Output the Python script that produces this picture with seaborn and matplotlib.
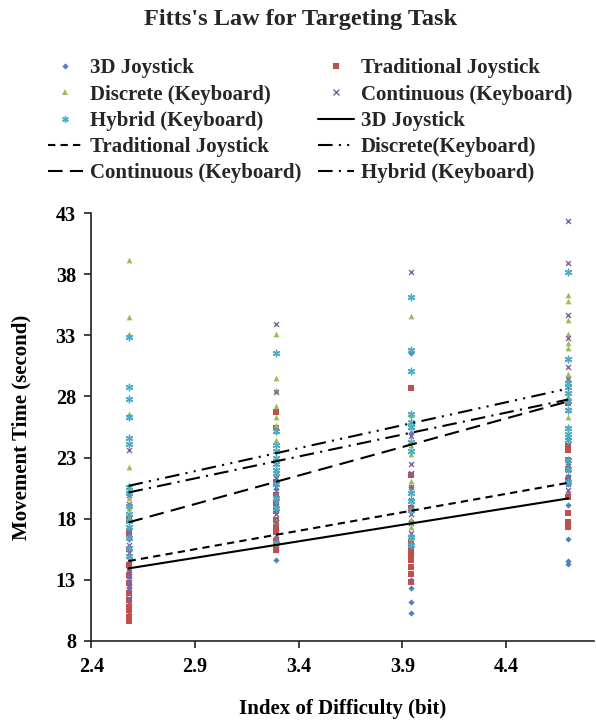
import numpy as np
import pandas as pd
import matplotlib
matplotlib.use("Agg")
import matplotlib.pyplot as plt
import seaborn as sns
from matplotlib.lines import Line2D

# ---------------- data ----------------
id_levels = [2.58, 3.29, 3.94, 4.70]

series_names = ["3D Joystick", "Traditional Joystick", "Discrete (Keyboard)",
                "Continuous (Keyboard)", "Hybrid (Keyboard)"]

mt_3d_joystick = [
    [10.2, 11.0, 12.3, 12.6, 13.2, 13.8, 14.4, 15.0, 15.7, 16.3, 17.2, 18.0],
    [14.6, 15.4, 15.7, 16.0, 16.3, 16.5, 17.1, 17.9, 18.6, 19.5, 20.4],
    [10.3, 11.2, 12.3, 13.0, 14.0, 15.2, 16.5, 17.8, 19.0, 20.6, 25.0, 31.6],
    [14.3, 14.5, 16.3, 17.3, 17.7, 19.1, 20.0, 20.8, 21.5, 22.5, 24.6],
]
mt_traditional = [
    [9.6, 9.9, 10.5, 10.8, 11.3, 11.9, 12.7, 13.4, 14.2, 15.5, 16.8, 18.0],
    [15.4, 15.8, 16.2, 16.9, 17.3, 17.9, 18.6, 19.3, 19.9, 21.0, 25.4, 26.7],
    [12.8, 13.5, 14.0, 14.6, 15.0, 15.5, 16.0, 18.9, 21.6, 28.7],
    [17.3, 17.7, 18.45, 19.8, 21.2, 22.1, 22.8, 23.6, 23.96, 27.5],
]
mt_discrete = [
    [39.2, 34.5, 33.1, 26.6, 22.2, 20.4, 19.7, 18.9, 18.1, 17.3, 16.6],
    [33.1, 29.5, 28.5, 27.2, 26.3, 25.7, 25.2, 24.4, 22.9, 21.6, 19.5, 17.8],
    [34.6, 26.5, 24.0, 23.3, 21.1, 20.3, 18.0, 17.3, 16.4],
    [36.3, 35.8, 34.3, 33.1, 32.4, 32.0, 29.8, 29.5, 28.0, 26.3, 25.5],
]
mt_continuous = [
    [26.3, 23.6, 19.9, 19.2, 17.0, 16.6, 15.8, 15.2, 14.6, 13.8, 13.3, 12.8, 12.2, 11.5],
    [33.9, 28.35, 21.3, 20.6, 20.0, 19.5, 19.0, 18.4, 17.7],
    [38.2, 25.5, 24.8, 22.5, 21.7, 20.6, 19.5, 18.4, 17.6, 16.8],
    [42.4, 38.9, 34.7, 32.8, 30.4, 29.4, 27.6, 26.9, 22.0, 21.4, 20.8, 20.3],
]
mt_hybrid = [
    [32.9, 28.8, 27.8, 26.3, 24.6, 24.1, 20.6, 20.1, 19.0, 18.4, 17.8, 17.3, 16.4, 15.6, 14.9],
    [31.6, 25.2, 24.0, 23.5, 23.0, 22.5, 22.0, 21.7, 20.8, 19.7, 18.9, 16.0],
    [36.15, 31.8, 30.1, 26.6, 25.9, 25.5, 24.3, 23.5, 20.1, 19.4, 18.7, 16.5, 15.8],
    [38.2, 31.05, 29.1, 28.75, 28.3, 27.6, 26.9, 25.4, 24.9, 24.4, 22.8, 22.1, 21.0],
]

fit_names = ["3D Joystick", "Traditional Joystick", "Discrete(Keyboard)",
             "Continuous (Keyboard)", "Hybrid (Keyboard)"]
fit_x = [2.58, 4.70]
fit_start = [13.92, 14.52, 20.68, 17.69, 20.14]
fit_end = [19.65, 20.93, 28.65, 27.60, 27.75]

x_ticks = [2.4, 2.9, 3.4, 3.9, 4.4]
y_ticks = [8, 13, 18, 23, 28, 33, 38, 43]

# ---------------- styles ----------------
colors = ["#4F81BD", "#C0504D", "#9BBB59", "#8064A2", "#4BACC6"]
markers = ["D", "s", "^", "x", (6, 2, 0)]
msizes = [10, 13, 17, 13, 22]
line_styles = ["-", (0, (3.5, 2.5)), (0, (7, 3, 1, 3, 1, 3)),
               (0, (7, 3.5)), (0, (7, 3, 1, 3))]

# ---------------- build frames ----------------
all_series = [mt_3d_joystick, mt_traditional, mt_discrete, mt_continuous, mt_hybrid]
rows = []
for name, cols in zip(series_names, all_series):
    for xv, ys in zip(id_levels, cols):
        for yv in ys:
            rows.append((name, xv, yv))
pts = pd.DataFrame(rows, columns=["series", "ID", "MT"])

fit_rows = []
for name, a, b in zip(fit_names, fit_start, fit_end):
    fit_rows.append((name, fit_x[0], a))
    fit_rows.append((name, fit_x[1], b))
fits = pd.DataFrame(fit_rows, columns=["fit", "ID", "MT"])

# ---------------- plot ----------------
sns.set_theme(style="white")
plt.rcParams["font.family"] = ["Liberation Serif", "DejaVu Serif"]
plt.rcParams["font.weight"] = "bold"

fig = plt.figure(figsize=(5.96, 7.21), dpi=100)
W, H = 596, 721
left, right, bottom, top = 91.2, 594, 640.7, 213.3
ax = fig.add_axes([left / W, 1 - bottom / H, (right - left) / W, (bottom - top) / H])


def is_line_marker(m):
    return m == "x" or isinstance(m, tuple)


for i, name in enumerate(series_names):
    sub = pts[pts["series"] == name]
    lw = 1.0 if is_line_marker(markers[i]) else 0
    sns.scatterplot(data=sub, x="ID", y="MT", marker=markers[i], color=colors[i],
                    s=msizes[i], ax=ax, legend=False, zorder=2 + i * 0.01, linewidth=lw)

for i, name in enumerate(fit_names):
    sub = fits[fits["fit"] == name]
    sns.lineplot(data=sub, x="ID", y="MT", color="black", linewidth=1.5,
                 linestyle=line_styles[i], ax=ax, legend=False, sort=False,
                 estimator=None, zorder=5)

ax.set_xlim(2.4, 2.4 + (right - left) / 207.4)
ax.set_ylim(8, 43)
ax.set_xticks(x_ticks)
ax.set_xticklabels([f"{v:.1f}" for v in x_ticks])
ax.set_yticks(y_ticks)
ax.set_yticklabels([str(v) for v in y_ticks])
for s in ["top", "right"]:
    ax.spines[s].set_visible(False)
for s in ["left", "bottom"]:
    ax.spines[s].set_color("#222222")
    ax.spines[s].set_linewidth(1.2)
ax.tick_params(axis="both", which="major", direction="out", length=5, width=1.2,
               color="#222222", labelsize=14.5, labelcolor="black")
ax.tick_params(axis="x", pad=7)
ax.tick_params(axis="y", pad=6)
ax.tick_params(bottom=True, left=True)
ax.grid(False)

ax.set_xlabel("Index of Difficulty (bit)", fontsize=15, fontweight="bold", color="black")
ax.set_ylabel("Movement Time (second)", fontsize=15, fontweight="bold", color="black")
ax.xaxis.set_label_coords(0.5, -0.137)
ax.yaxis.set_label_coords(-0.118, 0.5)

fig.suptitle("Fitts's Law for Targeting Task", x=0.505, y=1 - 19 / H, va="center",
             fontsize=17.5, fontweight="bold")

# legend (Excel row-major order -> matplotlib column-major)
handles = []
labels = []
for i, name in enumerate(series_names):
    handles.append(Line2D([], [], linestyle="none", marker=markers[i], color=colors[i],
                          markersize=np.sqrt(msizes[i]),
                          markeredgewidth=1.0 if is_line_marker(markers[i]) else 0))
    labels.append(name)
for i, name in enumerate(fit_names):
    handles.append(Line2D([], [], color="black", linewidth=1.5, linestyle=line_styles[i]))
    labels.append(name)
order = [0, 2, 4, 6, 8, 1, 3, 5, 7, 9]
leg = fig.legend([handles[k] for k in order], [labels[k] for k in order],
                 loc="upper center", bbox_to_anchor=(0.52, 1 - 48 / H), ncol=2,
                 frameon=False, fontsize=15, handlelength=1.7, handletextpad=0.35,
                 columnspacing=0.8, labelspacing=0.3, borderpad=0)

fig.savefig("out.png", dpi=100, facecolor="white")
